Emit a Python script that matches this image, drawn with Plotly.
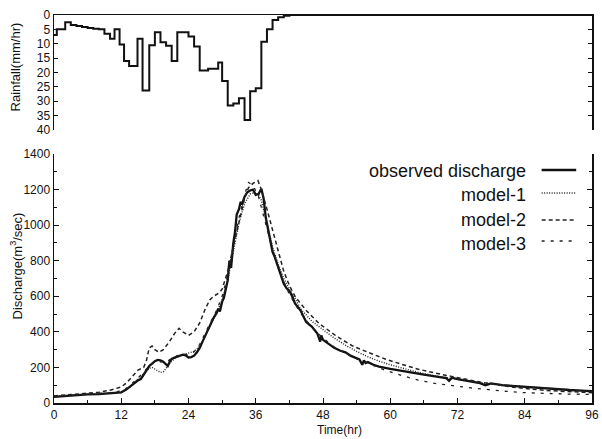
import plotly.graph_objects as go

# ---------------- data ----------------
rain_t = [0, 0.5, 2, 3, 4, 5, 6, 7, 8, 9, 10, 10.8, 11.7, 12.5, 13.4, 14.9, 15.8, 17, 18, 19, 20, 21, 22,
          24, 25, 26, 27.5, 29.3, 30, 31, 32, 33, 34, 35, 36, 37, 38, 39, 40, 41, 42, 96]
rain_v = [7, 5, 2.5, 3.5, 3.8, 4.2, 4.5, 4.8, 5, 6.5, 8.3, 5, 10.3, 16, 17.7, 8.3, 26.3, 10.5, 6, 9.5, 10.7, 16, 6,
          7.5, 11, 19.3, 18.7, 16.5, 23, 31.5, 30.8, 29, 36.5, 26.5, 25.5, 9.3, 5, 1.7, 0.8, 0.3, 0, 0]

obs_t = [0, 2, 4, 6, 8, 10, 11, 12, 13, 14, 15, 15.5, 16, 16.5, 17, 17.5, 18, 18.5, 19, 19.5, 20, 20.3, 20.7,
         21, 21.5, 22, 22.5, 23, 23.5, 24, 24.5, 25, 25.5, 26, 26.5, 27, 27.5, 28, 28.5, 29, 29.3, 29.6, 30,
         30.3, 30.6, 31, 31.3, 31.6, 32, 32.3, 32.6, 33, 33.3, 33.6, 34, 34.5, 35, 35.5, 36, 36.5, 37, 37.4,
         37.8, 38.2, 38.6, 39, 39.4, 40, 40.5, 41, 41.5, 42, 42.5, 43, 44, 45, 46, 46.5, 47, 47.5, 47.7, 48,
         49, 50, 51, 52, 53, 54, 54.5, 55, 55.3, 55.6, 56, 57, 58, 60, 62, 64, 66, 68, 70, 70.5, 71, 72, 74,
         76, 77, 78, 80, 82, 84, 86, 88, 90, 92, 94, 96]
obs_v = [35, 40, 44, 48, 50, 53, 56, 60, 78, 105, 128, 135, 160, 185, 208, 222, 235, 242, 240, 232, 218, 208, 235,
         248, 255, 262, 268, 272, 268, 256, 258, 266, 285, 310, 345, 380, 410, 440, 480, 505, 530, 515, 570,
         590, 640, 690, 800, 760, 900, 960, 1060, 1090, 1130, 1120, 1160, 1185, 1195, 1200, 1170, 1175, 1205, 1150,
         1040, 970, 900, 850, 820, 760, 710, 670, 645, 630, 600, 560, 520, 455, 430, 410, 390, 345, 380, 355,
         335, 310, 295, 285, 265, 252, 245, 215, 240, 225, 230, 215, 205, 192, 180, 170, 160, 150, 140, 125, 142, 134, 122,
         112, 100, 110, 100, 95, 90, 86, 80, 76, 73, 70, 67]

m1_t = [0, 4, 8, 10, 12, 13, 14, 15, 16, 17, 17.5, 18, 18.5, 19, 19.5, 20, 21, 22, 23, 24, 25, 26, 27, 28, 29,
        30, 31, 32, 33, 34, 35, 36, 36.5, 37, 37.5, 38, 39, 40, 41, 42, 43, 44, 46, 48, 50, 52, 54, 56, 58, 60,
        62, 65, 68, 72, 76, 80, 84, 88, 92, 96]
m1_v = [38, 44, 50, 54, 60, 75, 105, 135, 165, 195, 200, 190, 178, 172, 175, 195, 235, 262, 272, 280, 290, 320,
        380, 440, 505, 580, 690, 850, 1010, 1120, 1175, 1185, 1170, 1140, 1080, 1010, 880, 780, 700, 640, 590,
        530, 460, 410, 365, 325, 290, 260, 235, 215, 198, 172, 152, 132, 115, 102, 92, 82, 74, 66]

m2_t = [0, 4, 8, 10, 12, 13, 14, 15, 16, 16.5, 17, 17.5, 18, 18.7, 19.5, 20.5, 21.5, 22.3, 23, 24, 25, 26, 27,
        27.8, 28.5, 29, 29.5, 30, 31, 32, 33, 34, 34.7, 35.5, 36.4, 37, 38, 39, 40, 41, 42, 43, 45, 47.3, 50.3,
        53.2, 56.1, 59.1, 62, 65, 70, 76, 82, 88, 96]
m2_v = [40, 48, 60, 72, 90, 115, 150, 185, 200, 240, 310, 320, 300, 285, 300, 340, 390, 420, 400, 380, 400, 450,
        530, 580, 600, 610, 620, 640, 740, 880, 1020, 1150, 1210, 1235, 1250, 1200, 1090, 970, 850, 740, 660,
        600, 520, 447, 378, 322, 284, 247, 218, 190, 155, 118, 88, 70, 58]

m3_t = [0, 4, 8, 10, 12, 13, 14, 15, 16, 17, 18, 19, 20, 21, 22, 23, 24, 25, 26, 27, 28, 29, 30, 31, 32, 33, 34,
        34.7, 35.5, 36.5, 37, 38, 39, 40, 41, 42, 44, 46, 48, 50, 53, 56, 59, 62, 65, 68, 71, 74, 77, 80, 84,
        88, 92, 96]
m3_v = [38, 45, 52, 58, 68, 85, 112, 140, 172, 212, 228, 232, 228, 252, 266, 275, 272, 288, 330, 395, 455, 520,
        600, 720, 880, 1040, 1170, 1240, 1225, 1160, 1100, 980, 860, 760, 680, 610, 505, 425, 365, 315, 262,
        222, 185, 155, 128, 110, 96, 86, 77, 67, 58, 53, 50, 48]

x_ticks = [0, 12, 24, 36, 48, 60, 72, 84, 96]
rain_ticks = [0, 5, 10, 15, 20, 25, 30, 35, 40]
q_ticks = [0, 200, 400, 600, 800, 1000, 1200, 1400]
legend_names = ["observed discharge", "model-1", "model-2", "model-3"]

# ---------------- figure ----------------
FONT = "Liberation Sans, Arial, sans-serif"
INK = "#111111"

fig = go.Figure()
fig.add_trace(go.Scatter(x=rain_t, y=rain_v, mode="lines", line=dict(color=INK, width=2, shape="hv"),
                         xaxis="x", yaxis="y", showlegend=False, hoverinfo="skip"))

styles = [
    dict(color=INK, width=2.3, dash="solid"),
    dict(color="#222222", width=1.4, dash="1px,1.5px"),
    dict(color="#222222", width=1.5, dash="4px,3px"),
    dict(color="#222222", width=1.3, dash="3px,6px"),
]
series = [(obs_t, obs_v), (m1_t, m1_v), (m2_t, m2_v), (m3_t, m3_v)]
for (t, v), st, nm in zip(series, styles, legend_names):
    fig.add_trace(go.Scatter(x=t, y=v, mode="lines", line=st, name=nm, hoverinfo="skip",
                             xaxis="x2", yaxis="y2", showlegend=False))

W, H = 602, 439
L, R, T, B = 54, 3, 15, 36
pw, ph = W - L - R, H - T - B


def px_x(px):
    return (px - L) / pw


def px_y(py):
    return (H - B - py) / ph


top_dom = [px_y(130), 1.0]
bot_dom = [0.0, px_y(154)]

tickfont = dict(family=FONT, size=12, color=INK)
fig.update_layout(
    width=W, height=H,
    margin=dict(l=L, r=R, t=T, b=B),
    paper_bgcolor="white", plot_bgcolor="white",
    font=dict(family=FONT, color=INK),
    hovermode=False,
    xaxis=dict(domain=[0, 1], range=[0, 96], anchor="y", side="top", showline=True, linecolor=INK,
               linewidth=1.5, ticks="", showticklabels=False, showgrid=False, zeroline=False),
    yaxis=dict(domain=top_dom, range=[40, 0], anchor="x", tickvals=rain_ticks, ticks="inside", ticklen=4,
               showline=True, linecolor=INK, linewidth=1.5, mirror="ticks", tickcolor=INK,
               tickfont=tickfont, showgrid=False, zeroline=False),
    xaxis2=dict(domain=[0, 1], range=[0, 96], anchor="y2", tickvals=x_ticks, ticks="inside", ticklen=5,
                showline=True, linecolor=INK, linewidth=1.5, tickcolor=INK, tickfont=tickfont,
                ticklabeloverflow="allow",
                minor=dict(dtick=6, tick0=0, ticks="inside", ticklen=3, tickcolor=INK),
                showgrid=False, zeroline=False),
    yaxis2=dict(domain=bot_dom, range=[0, 1400], anchor="x2", tickvals=q_ticks, ticks="inside", ticklen=5,
                showline=True, linecolor=INK, linewidth=1.5, mirror="ticks", tickcolor=INK,
                tickfont=tickfont, minor=dict(dtick=100, tick0=0, ticks="inside", ticklen=3, tickcolor=INK),
                showgrid=False, zeroline=False),
)

ann = [
    ("Rainfall(mm/hr)", 16, 67, -90, 13),
    ("Discharge(m<sup>3</sup>/sec)", 16, 266, -90, 13),
    ("Time(hr)", 343, 430, 0, 12),
]
for text, ax, ay, ang, size in ann:
    fig.add_annotation(xref="paper", yref="paper", x=px_x(ax), y=px_y(ay), xanchor="center", yanchor="middle",
                       text=text, textangle=ang, showarrow=False,
                       font=dict(family=FONT, color=INK, size=size))

text_y = [171, 195, 220, 244]
sample_y = [170, 193, 220, 241]
for nm, st, ty, sy in zip(legend_names, styles, text_y, sample_y):
    fig.add_annotation(xref="paper", yref="paper", x=px_x(534), y=px_y(ty), xanchor="right", yanchor="middle",
                       text=nm, showarrow=False, font=dict(family=FONT, size=18, color=INK))
    fig.add_shape(type="line", xref="paper", yref="paper", x0=px_x(548), x1=px_x(583), y0=px_y(sy),
                  y1=px_y(sy), line=dict(color=st["color"], width=st["width"], dash=st["dash"]))

# remove the default 8px page margin so the figure sits at the window origin
fig.write_html("out.html", config={"displayModeBar": False, "staticPlot": True},
               post_script="document.body.style.margin='0';document.body.style.overflow='hidden';")
